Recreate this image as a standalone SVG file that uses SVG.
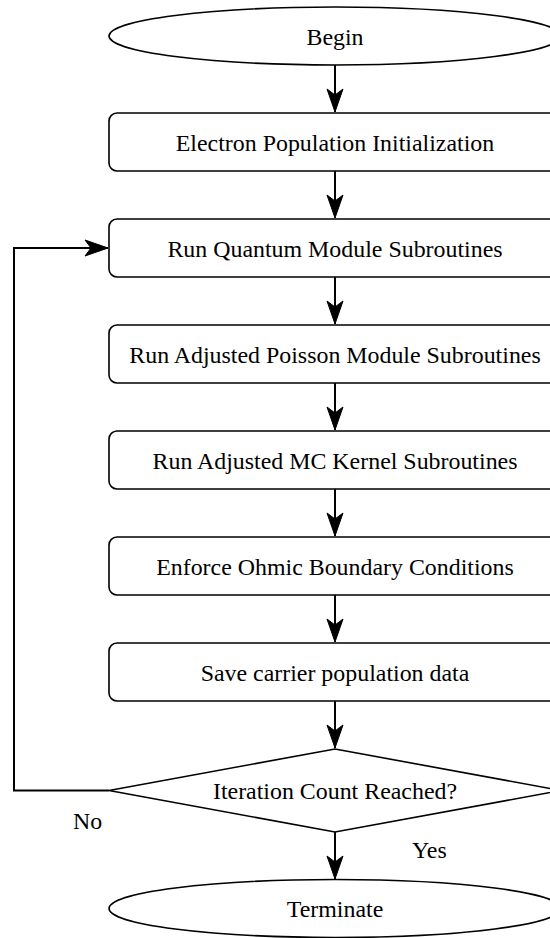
<svg xmlns="http://www.w3.org/2000/svg" width="550" height="938" viewBox="0 0 550 938">
  <defs>
    <style>
      .shape { fill: #ffffff; stroke: #000000; stroke-width: 1.6; }
      .lbl { font-family: "Liberation Serif", "Times New Roman", serif; font-size: 23.9px; fill: #000000; text-anchor: middle; }
      .side { font-family: "Liberation Serif", "Times New Roman", serif; font-size: 23.9px; fill: #000000; }
      .edge { fill: none; stroke: #000000; stroke-width: 2; }
    </style>
    <marker id="arrow" markerUnits="userSpaceOnUse" markerWidth="26" markerHeight="20" viewBox="-24 -9 26 18" refX="0" refY="0" orient="auto">
      <path d="M0,0 L-23,-8 L-17,0 L-23,8 Z" fill="#000000" stroke="#000000" stroke-width="1"/>
    </marker>
  </defs>

  <rect width="550" height="938" fill="#ffffff"/>

  <!-- connectors -->
  <g id="connectors">
    <line class="edge" x1="335" y1="65" x2="335" y2="112" marker-end="url(#arrow)"/>
    <line class="edge" x1="335" y1="171" x2="335" y2="218" marker-end="url(#arrow)"/>
    <line class="edge" x1="335" y1="277" x2="335" y2="324" marker-end="url(#arrow)"/>
    <line class="edge" x1="335" y1="383" x2="335" y2="430" marker-end="url(#arrow)"/>
    <line class="edge" x1="335" y1="489" x2="335" y2="536" marker-end="url(#arrow)"/>
    <line class="edge" x1="335" y1="595" x2="335" y2="642" marker-end="url(#arrow)"/>
    <line class="edge" x1="335" y1="701" x2="335" y2="748" marker-end="url(#arrow)"/>
    <line class="edge" x1="335" y1="832" x2="335" y2="879" marker-end="url(#arrow)"/>
    <polyline class="edge" points="109,790.5 14,790.5 14,248 108,248" marker-end="url(#arrow)"/>
    <text class="side" x="73" y="829">No</text>
    <text class="side" x="412" y="858">Yes</text>
  </g>

  <g id="begin">
    <ellipse class="shape" cx="335" cy="36" rx="226" ry="29"/>
    <text class="lbl" x="335" y="44.5">Begin</text>
  </g>

  <g id="init">
    <rect class="shape" x="109" y="113" width="452" height="58" rx="8"/>
    <text class="lbl" x="335" y="150.5">Electron Population Initialization</text>
  </g>

  <g id="quantum">
    <rect class="shape" x="109" y="219" width="452" height="58" rx="8"/>
    <text class="lbl" x="335" y="256.5">Run Quantum Module Subroutines</text>
  </g>

  <g id="poisson">
    <rect class="shape" x="109" y="325" width="452" height="58" rx="8"/>
    <text class="lbl" x="335" y="362.5">Run Adjusted Poisson Module Subroutines</text>
  </g>

  <g id="mc-kernel">
    <rect class="shape" x="109" y="431" width="452" height="58" rx="8"/>
    <text class="lbl" x="335" y="468.5">Run Adjusted MC Kernel Subroutines</text>
  </g>

  <g id="ohmic">
    <rect class="shape" x="109" y="537" width="452" height="58" rx="8"/>
    <text class="lbl" x="335" y="574.5">Enforce Ohmic Boundary Conditions</text>
  </g>

  <g id="save">
    <rect class="shape" x="109" y="643" width="452" height="58" rx="8"/>
    <text class="lbl" x="335" y="680.5">Save carrier population data</text>
  </g>

  <g id="check">
    <polygon class="shape" points="335,749 561,790.5 335,832 109,790.5"/>
    <text class="lbl" x="335" y="799">Iteration Count Reached?</text>
  </g>

  <g id="terminate">
    <ellipse class="shape" cx="335" cy="908.5" rx="226" ry="29"/>
    <text class="lbl" x="335" y="917">Terminate</text>
  </g>
</svg>
